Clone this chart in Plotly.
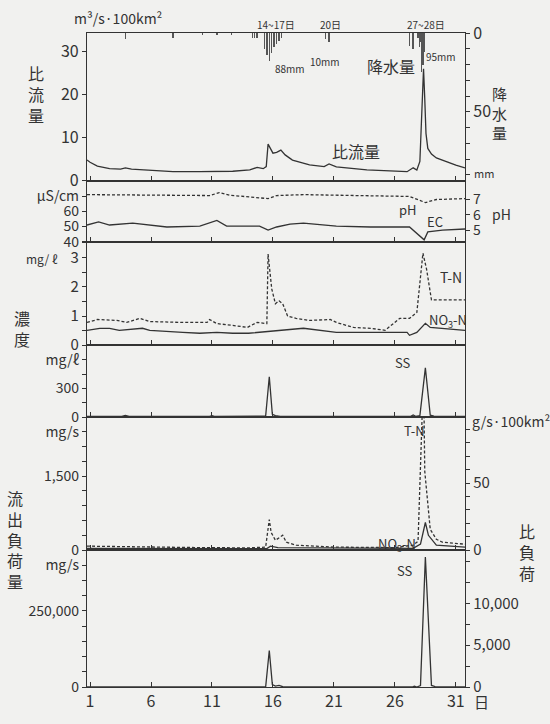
import plotly.graph_objects as go

# ---------------- data ----------------
# specific discharge (m3/s/100km2)
flow_day = [0.75, 1.0, 1.6, 2.6, 3.5, 3.9, 4.4, 5.9, 7.8, 10.0, 12.7, 14.1, 14.7, 15.2, 15.45, 15.6, 16.0, 16.3, 16.65,
            17.0, 17.6, 19.0, 20.2, 20.6, 21.2, 23.7, 27.0, 27.5, 27.8, 28.05, 28.2, 28.35, 28.45, 28.55, 28.7, 29.0,
            29.4, 30.5, 31.0, 31.75]
flow_val = [4.8, 4.3, 3.4, 2.8, 2.7, 3.0, 2.7, 2.5, 2.1, 2.1, 2.2, 2.5, 3.1, 2.8, 3.3, 8.5, 6.4, 6.6, 7.1,
            6.0, 4.8, 3.7, 3.3, 3.9, 3.2, 2.5, 2.1, 3.0, 2.5, 4.5, 14.0, 26.0, 19.0, 11.0, 7.5, 6.2,
            5.3, 4.1, 3.6, 3.0]

# hourly rainfall (mm)
rain_day = [3.9, 7.8, 10.2, 11.4, 12.6, 14.3, 14.5, 14.7, 15.3, 15.5, 15.7, 15.9, 16.1, 16.3, 16.5, 16.7,
            20.3, 20.6, 27.2, 27.5, 27.9, 28.0, 28.1, 28.2, 28.3, 28.4]
rain_mm = [4, 3, 1.5, 1.5, 1.5, 3, 3, 3, 10, 14, 18, 13, 9, 7, 5, 3,
           4, 6, 8, 10, 3, 9, 6, 25, 20, 12]

# EC (uS/cm) and pH
ec_day = [0.75, 1.7, 2.6, 4.5, 7.3, 10.0, 11.4, 12.2, 14.9, 15.6, 16.3, 17.4, 18.5, 21.2, 24.0, 27.2, 28.4, 28.7,
          29.9, 31.75]
ec_val = [51, 53, 51, 52.3, 49.7, 50.3, 54, 50.3, 50.3, 47.7, 49.7, 51.6, 52.3, 50.3, 49.7, 49.7, 41.3, 46.5,
          47.7, 48.4]
ph_day = [0.75, 7.3, 10.8, 11.6, 12.5, 15.6, 16.3, 18.5, 25.3, 27.2, 28.5, 29.4, 31.75]
ph_val = [7.32, 7.3, 7.26, 7.45, 7.28, 7.06, 7.26, 7.32, 7.26, 7.2, 6.8, 7.0, 7.06]

# concentrations (mg/l)
tn_day = [0.75, 1.6, 3.2, 4.0, 5.1, 5.9, 8.6, 10.6, 10.8, 11.4, 12.7, 13.9, 14.7, 15.5, 15.6, 15.9, 16.2, 16.5,
          16.8, 17.2, 17.9, 19.0, 20.7, 21.2, 22.6, 24.0, 25.2, 25.9, 26.4, 27.2, 27.8, 28.3, 28.6, 29.0, 31.75]
tn_val = [0.78, 0.88, 0.85, 0.78, 0.92, 0.81, 0.78, 0.78, 0.88, 0.74, 0.68, 0.61, 0.78, 0.74, 3.12, 1.93, 1.42, 1.52,
          1.42, 1.0, 0.92, 0.85, 0.88, 0.78, 0.61, 0.58, 0.51, 0.74, 0.92, 0.92, 1.12, 3.15, 2.6, 1.55, 1.55]
no3_day = [0.75, 1.8, 2.6, 3.4, 5.3, 5.9, 8.6, 10.0, 11.4, 12.7, 14.0, 16.3, 18.5, 21.2, 24.0, 27.0, 27.2, 27.8,
           28.5, 28.9, 31.75]
no3_val = [0.51, 0.58, 0.58, 0.51, 0.58, 0.51, 0.44, 0.41, 0.44, 0.41, 0.41, 0.51, 0.58, 0.44, 0.44, 0.44, 0.34, 0.44,
           0.75, 0.61, 0.51]
ss_day = [0.75, 3.6, 3.9, 4.2, 10.8, 11.0, 11.2, 14.8, 15.0, 15.2, 15.4, 15.7, 15.95, 16.2, 16.6, 27.3, 27.5, 27.7,
          28.05, 28.5, 28.9, 29.2, 31.75]
ss_val = [8, 8, 18, 8, 8, 15, 8, 8, 15, 8, 10, 424, 30, 15, 8, 8, 22, 8,
          15, 517, 20, 10, 8]

# loads (mg/s)
tnl_day = [0.75, 5.0, 10.0, 14.0, 15.4, 15.7, 15.85, 16.2, 16.6, 16.8, 17.1, 17.9, 21.0, 26.0, 27.5, 27.9, 28.35,
           28.45, 28.9, 29.4, 29.9, 31.75]
tnl_val = [80, 60, 50, 45, 60, 620, 360, 200, 260, 300, 160, 100, 60, 50, 100, 180, 3600,
           1600, 420, 220, 160, 120]
no3l_day = [0.75, 10.0, 15.5, 15.8, 16.4, 27.5, 28.1, 28.5, 28.75, 29.4, 31.75]
no3l_val = [35, 25, 30, 80, 50, 35, 120, 560, 300, 100, 60]
ssl_day = [0.75, 15.4, 15.7, 15.95, 16.2, 16.5, 16.8, 27.4, 27.6, 27.8, 28.1, 28.5, 29.0, 29.3, 31.75]
ssl_val = [0, 0, 120000, 8000, 3000, 5000, 1000, 0, 3000, 0, 5000, 427000, 5000, 1500, 0]

day_ticks = [1, 6, 11, 16, 21, 26, 31]

# ---------------- layout helpers ----------------
W, H = 550, 724
L, R, T, B = 87, 85, 33, 27
PW, PH = W - L - R, H - T - B


def px(x):
    return (x - L) / PW


def py(y):
    return (H - B - y) / PH


bounds = [33, 183, 245, 350, 423, 558, 697]
doms = [[py(bounds[i + 1]), py(bounds[i])] for i in range(6)]

INK = "#333333"
FONT = "Noto Sans CJK JP"
BG = "#f1f1ef"

fig = go.Figure()

line_solid = dict(color=INK, width=1.3)
line_dash = dict(color=INK, width=1.3, dash="3px,2px")

# panel 1
fig.add_trace(go.Bar(x=rain_day, y=rain_mm, xaxis="x", yaxis="y7", width=0.035,
                     marker=dict(color="#555555", line=dict(width=0)), showlegend=False))
fig.add_trace(go.Scatter(x=flow_day, y=flow_val, xaxis="x", yaxis="y", mode="lines", line=line_solid,
                         showlegend=False))
# panel 2
fig.add_trace(go.Scatter(x=ec_day, y=ec_val, xaxis="x2", yaxis="y2", mode="lines", line=line_solid,
                         showlegend=False))
fig.add_trace(go.Scatter(x=ph_day, y=ph_val, xaxis="x2", yaxis="y8", mode="lines", line=line_dash,
                         showlegend=False))
# panel 3
fig.add_trace(go.Scatter(x=tn_day, y=tn_val, xaxis="x3", yaxis="y3", mode="lines", line=line_dash,
                         showlegend=False))
fig.add_trace(go.Scatter(x=no3_day, y=no3_val, xaxis="x3", yaxis="y3", mode="lines", line=line_solid,
                         showlegend=False))
# panel 4
fig.add_trace(go.Scatter(x=ss_day, y=ss_val, xaxis="x4", yaxis="y4", mode="lines", line=line_solid,
                         showlegend=False))
# panel 5
fig.add_trace(go.Scatter(x=tnl_day, y=tnl_val, xaxis="x5", yaxis="y5", mode="lines", line=line_dash,
                         showlegend=False))
fig.add_trace(go.Scatter(x=no3l_day, y=no3l_val, xaxis="x5", yaxis="y5", mode="lines", line=line_solid,
                         showlegend=False))
# panel 6
fig.add_trace(go.Scatter(x=ssl_day, y=ssl_val, xaxis="x6", yaxis="y6", mode="lines", line=line_solid,
                         showlegend=False))
# invisible traces so the secondary (specific load) axes are drawn
fig.add_trace(go.Scatter(x=[None], y=[None], xaxis="x5", yaxis="y9", mode="lines", showlegend=False,
                         hoverinfo="skip"))
fig.add_trace(go.Scatter(x=[None], y=[None], xaxis="x6", yaxis="y10", mode="lines", showlegend=False,
                         hoverinfo="skip"))


def tf(size):
    return dict(family=FONT, size=size, color=INK)


axcommon = dict(showline=True, linecolor=INK, linewidth=1.3, showgrid=False, zeroline=False,
                tickcolor=INK)

XR = [0.75, 31.75]
lay = {}
ynames = ["yaxis", "yaxis2", "yaxis3", "yaxis4", "yaxis5", "yaxis6"]
xnames = ["xaxis", "xaxis2", "xaxis3", "xaxis4", "xaxis5", "xaxis6"]
yref = ["y", "y2", "y3", "y4", "y5", "y6"]
for i in range(6):
    lay[xnames[i]] = dict(axcommon, domain=[0, 1], range=XR, anchor=yref[i], mirror=True,
                          tickvals=day_ticks, ticks="inside", ticklen=5, tickfont=tf(16),
                          showticklabels=(i == 5),
                          **({} if i == 0 else {"matches": "x"}))

left_specs = [
    dict(range=[0, 34.3], tickvals=[0, 10, 20, 30], ticktext=["0", "10", "20", "30"], tickfont=tf(16)),
    dict(range=[40, 80], tickvals=[40, 50, 60, 70], ticktext=["40", "50", "60", "μS/cm"], tickfont=tf(14)),
    dict(range=[0, 3.54], tickvals=[0, 1, 2, 3], ticktext=["0", "1", "2", "3"], minor=dict(dtick=0.5),
         tickfont=tf(15)),
    dict(range=[0, 755], tickvals=[0, 300, 600], ticktext=["0", "300", "mg/ℓ"], minor=dict(dtick=150),
         tickfont=tf(14)),
    dict(range=[0, 2700], tickvals=[0, 1500, 2400], ticktext=["0", "1,500", "mg/s"], minor=dict(dtick=300),
         tickfont=tf(14)),
    dict(range=[0, 450000], tickvals=[0, 250000, 400000], ticktext=["0", "250,000", "mg/s"],
         minor=dict(dtick=50000), tickfont=tf(14)),
]
for i in range(6):
    spec = dict(left_specs[i])
    mn = spec.pop("minor", None)
    d = dict(axcommon, domain=doms[i], anchor=xnames[i].replace("axis", ""), mirror=True,
             ticks="outside", ticklen=4, **spec)
    if mn:
        d["minor"] = dict(dtick=mn["dtick"], ticks="outside", ticklen=4, tickcolor=INK)
    lay[ynames[i]] = d

rightcommon = dict(axcommon, side="right", ticks="outside", ticklen=4)
lay["yaxis7"] = dict(rightcommon, overlaying="y", anchor="x", range=[93.75, 0], tickvals=[0, 50],
                     ticktext=["0", "50"], minor=dict(dtick=10, ticks="outside", ticklen=4, tickcolor=INK),
                     tickfont=tf(16))
lay["yaxis8"] = dict(rightcommon, overlaying="y2", anchor="x2", range=[4.23, 8.23], tickvals=[5, 6, 7],
                     ticktext=["5", "6", "7"], tickfont=tf(14))
lay["yaxis9"] = dict(rightcommon, overlaying="y5", anchor="x5", range=[0, 99.3], tickvals=[0, 50],
                     ticktext=["0", "50"], minor=dict(dtick=10, ticks="outside", ticklen=4, tickcolor=INK),
                     tickfont=tf(15))
lay["yaxis10"] = dict(rightcommon, overlaying="y6", anchor="x6", range=[0, 16360], tickvals=[0, 5000, 10000],
                      ticktext=["0", "5,000", "10,000"], tickfont=tf(15),
                      minor=dict(dtick=2500, ticks="outside", ticklen=4, tickcolor=INK))

anns = []


def ann(text, x, y, size=12, xanchor="center", yanchor="middle"):
    anns.append(dict(text=text, x=px(x), y=py(y), xref="paper", yref="paper", showarrow=False,
                     xanchor=xanchor, yanchor=yanchor, font=tf(size)))


ann("m³/s·100km²", 72, 18, size=14, xanchor="left")
ann("14~17日", 276, 24, size=10)
ann("20日", 330, 24, size=10)
ann("27~28日", 426, 24, size=10)
ann("88mm", 290, 69, size=10)
ann("10mm", 325, 62, size=10)
ann("95mm", 441, 57, size=10)
ann("降水量", 391, 67, size=16)
ann("比流量", 356, 153, size=16)
ann("mm", 472, 175, size=11, xanchor="left")
ann("比<br>流<br>量", 36, 95, size=16)
ann("降<br>水<br>量", 499, 114, size=15)
ann("pH", 490, 217, size=14, xanchor="left")
ann("pH", 408, 212, size=13)
ann("EC", 435, 224, size=13)
ann("mg/ ℓ", 42, 262, size=12)
ann("T-N", 451, 281, size=14)
ann("NO<sub>3</sub>-N", 448, 325, size=13)
ann("濃<br>度", 22, 333, size=16)
ann("SS", 403, 368, size=13)
ann("g/s·100km²", 470, 427, size=14, xanchor="left")
ann("T-N", 414, 437, size=13)
ann("NO<sub>3</sub>-N", 397, 552, size=13)
ann("SS", 405, 579, size=13)
ann("流<br>出<br>負<br>荷<br>量", 15, 547, size=16)
ann("比<br>負<br>荷", 527, 560, size=16)
ann("日", 472, 712, size=15, xanchor="left")

fig.update_layout(width=W, height=H, margin=dict(l=L, r=R, t=T, b=B), paper_bgcolor=BG, plot_bgcolor=BG,
                  bargap=0, annotations=anns, font=dict(family=FONT, color=INK), **lay)

fig.write_html("out.html")
